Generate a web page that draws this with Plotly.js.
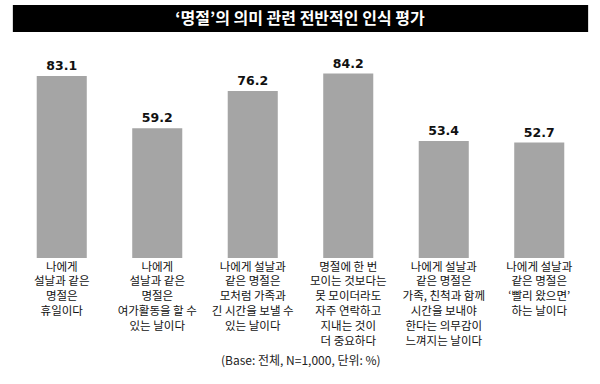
<!DOCTYPE html>
<html>
<head>
<meta charset="utf-8">
<script src="https://cdn.plot.ly/plotly-3.0.1.min.js"></script>
<style>html,body{margin:0;padding:0;background:#fff;}#chart{width:600px;height:384px;}</style>
</head>
<body>
<div id="chart"></div>
<script>
const categories = ["c1","c2","c3","c4","c5","c6"];
const tickLabels = [
  "나에게<br>설날과 같은<br>명절은<br>휴일이다",
  "나에게<br>설날과 같은<br>명절은<br>여가활동을 할 수<br>있는 날이다",
  "나에게 설날과<br>같은 명절은<br>모처럼 가족과<br>긴 시간을 보낼 수<br>있는 날이다",
  "명절에 한 번<br>모이는 것보다는<br>못 모이더라도<br>자주 연락하고<br>지내는 것이<br>더 중요하다",
  "나에게 설날과<br>같은 명절은<br>가족, 친척과 함께<br>시간을 보내야<br>한다는 의무감이<br>느껴지는 날이다",
  "나에게 설날과<br>같은 명절은<br>‘빨리 왔으면’<br>하는 날이다"
];
const values = [83.1, 59.2, 76.2, 84.2, 53.4, 52.7];
const titleText = "‘명절’의 의미 관련 전반적인 인식 평가";
const noteText = "(Base: 전체, N=1,000, 단위: %)";

const fontKR = "'Noto Sans CJK KR', 'Noto Sans', sans-serif";

const trace = {
  type: "bar",
  x: categories,
  y: values,
  marker: {color: "#a5a5a5"},
  text: values.map(v => v.toFixed(1)),
  textposition: "outside",
  textfont: {family: "'DejaVu Sans', sans-serif", size: 12.5, color: "#111", weight: "bold"},
  cliponaxis: false,
  hoverinfo: "none"
};

const layout = {
  width: 600, height: 384,
  margin: {l: 14, r: 13, t: 39, b: 126},
  paper_bgcolor: "#fff", plot_bgcolor: "#fff",
  bargap: 0.476,
  showlegend: false,
  font: {family: fontKR, color: "#222"},
  title: {text: titleText, font: {family: fontKR, size: 16, color: "#fff", weight: "bold"},
          x: 0.5, xanchor: "center", y: 0.952, yanchor: "middle", yref: "container"},
  xaxis: {
    tickmode: "array", tickvals: categories, ticktext: tickLabels,
    tickfont: {family: fontKR, size: 11.5, color: "#111"},
    showgrid: false, zeroline: false, showline: false, ticks: "", fixedrange: true
  },
  yaxis: {range: [0, 100], visible: false, showgrid: false, zeroline: false, fixedrange: true},
  shapes: [{
    type: "rect", xref: "paper", yref: "paper",
    x0: -0.002, x1: 1.002, y0: (258 - 32) / 219, y1: (258 - 5) / 219,
    fillcolor: "#000", line: {width: 0}, layer: "below"
  }],
  annotations: [{
    text: noteText, xref: "paper", yref: "paper", x: 0.5, y: (258 - 359) / 219,
    xanchor: "center", yanchor: "middle", showarrow: false,
    font: {family: fontKR, size: 12, color: "#222"}
  }]
};

Plotly.newPlot("chart", [trace], layout, {displayModeBar: false, staticPlot: true});
</script>
</body>
</html>
